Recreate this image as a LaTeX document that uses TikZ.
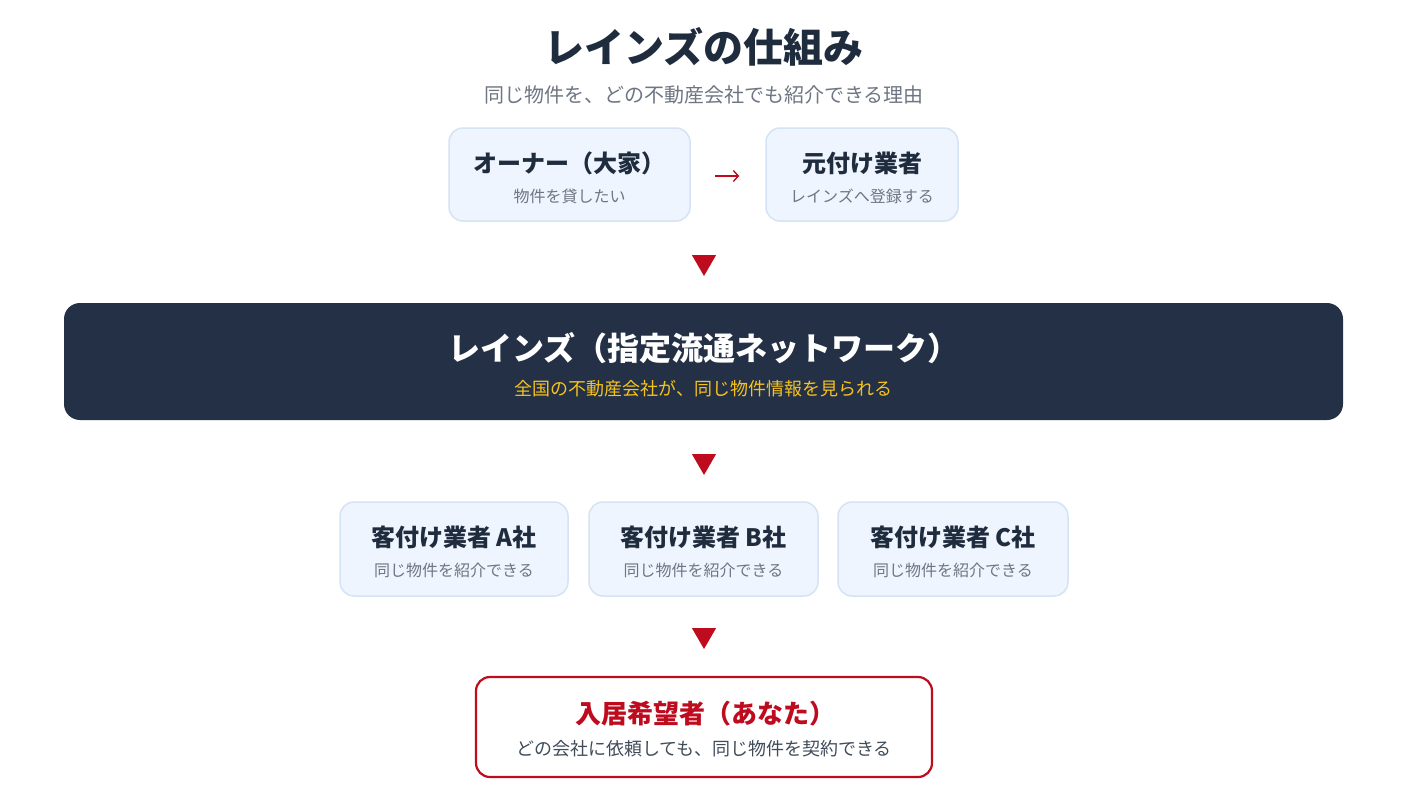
\documentclass[tikz,border=0pt]{standalone}
\usepackage{fontspec}
\setmainfont{Noto Sans CJK JP}
\usetikzlibrary{shapes.geometric,arrows.meta}
\definecolor{navy}{HTML}{233046}
\definecolor{ink}{HTML}{1F2C3E}
\definecolor{mute}{HTML}{6E7683}
\definecolor{paleblue}{HTML}{EEF5FE}
\definecolor{edgeblue}{HTML}{D5E3F4}
\definecolor{crimson}{HTML}{BE0B1E}
\definecolor{amber}{HTML}{F6C21C}
\tikzset{
  card/.style={draw=edgeblue, fill=paleblue, line width=1.5pt, rounded corners=14pt, inner sep=0pt},
  head/.style={text=ink, font=\bfseries\fontsize{24}{28}\selectfont, inner sep=0pt},
  note/.style={text=mute, font=\fontsize{16}{19}\selectfont, inner sep=0pt},
  downtri/.style={regular polygon, regular polygon sides=3, shape border rotate=180, fill=crimson, minimum size=28pt, inner sep=0pt}
}
\begin{document}
\begin{tikzpicture}[x=1pt, y=-1pt]
        \useasboundingbox[fill=white] (0, 0) rectangle (1408, 792);
        \node[text=ink, font=\bfseries\fontsize{40}{47}\selectfont, inner sep=0pt] (title) at (704, 47) {レインズの仕組み};
        \node[note, font=\fontsize{20}{24}\selectfont] (subtitle) at (704, 95) {同じ物件を、どの不動産会社でも紹介できる理由};

        \node[card, minimum width=241pt, minimum height=93pt] (owner) at (569.5, 174.5) {};
        \node[head] at (569.5, 163) {オーナー（大家）};
        \node[note] at (569.5, 196) {物件を貸したい};
        \node[card, minimum width=192pt, minimum height=93pt] (moto) at (862, 174.5) {};
        \node[head] at (862, 163) {元付け業者};
        \node[note] at (862, 196) {レインズへ登録する};
        \draw[crimson, line width=1.4pt, shorten <=24pt, shorten >=26pt, -{Straight Barb[length=5pt, width=11pt]}] ([yshift=-1.5pt]owner.east) -- ([yshift=-1.5pt]moto.west);

        \node[downtri] (tri1) at (704, 262) {};

        \node[fill=navy, rounded corners=16pt, minimum width=1279pt, minimum height=117pt, inner sep=0pt] (reins) at (703.5, 361.5) {};
        \node[text=white, font=\bfseries\fontsize{32}{38}\selectfont, inner sep=0pt] at (704, 348) {レインズ（指定流通ネットワーク）};
        \node[text=amber, font=\fontsize{18}{21}\selectfont, inner sep=0pt] at (703.5, 389) {全国の不動産会社が、同じ物件情報を見られる};

        \node[downtri] (tri2) at (704, 461) {};

        \node[card, minimum width=228pt, minimum height=94pt] (agentA) at (454, 549) {};
        \node[head] at (454, 537) {客付け業者 A社};
        \node[note] at (454, 570) {同じ物件を紹介できる};
        \node[card, minimum width=229pt, minimum height=94pt] (agentB) at (703.5, 549) {};
        \node[head] at (703.5, 537) {客付け業者 B社};
        \node[note] at (703.5, 570) {同じ物件を紹介できる};
        \node[card, minimum width=230pt, minimum height=94pt] (agentC) at (953, 549) {};
        \node[head] at (953, 537) {客付け業者 C社};
        \node[note] at (953, 570) {同じ物件を紹介できる};

        \node[downtri] (tri3) at (704, 635) {};

        \node[draw=crimson, fill=white, line width=2.2pt, rounded corners=14pt, minimum width=456pt, minimum height=100pt, inner sep=0pt] (you) at (704, 727) {};
        \node[head, text=crimson, font=\bfseries\fontsize{26}{31}\selectfont] at (705, 714) {入居希望者（あなた）};
        \node[note, text=ink!85, font=\fontsize{18}{21}\selectfont] at (704, 749) {どの会社に依頼しても、同じ物件を契約できる};
\end{tikzpicture}
\end{document}
